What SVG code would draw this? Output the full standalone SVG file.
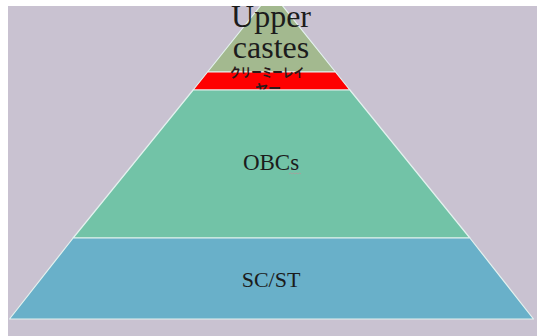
<svg xmlns="http://www.w3.org/2000/svg" width="537" height="336" viewBox="0 0 537 336">
<style>
.layer{stroke:#e4f2ef;stroke-width:1.2;stroke-linejoin:round}
.lbl{font-family:"Liberation Serif","DejaVu Serif",serif;fill:#1c1c1c;text-anchor:middle}
.jp{font-family:"Noto Sans CJK JP","Noto Sans CJK SC",sans-serif;fill:#2a1a1a;text-anchor:middle;font-weight:bold}
</style>
<defs>
<clipPath id="area"><rect x="8" y="6" width="529" height="330"/></clipPath>
</defs>
<rect x="0" y="0" width="537" height="336" fill="#ffffff"/>
<rect x="8" y="6" width="529" height="330" fill="#c9c2d1"/>
<g clip-path="url(#area)">
<g id="upper-castes">
<polygon class="layer" points="271.5,-8 335.5,72 207.5,72" fill="#a3b98f"/>
</g>
<g id="creamy-layer">
<polygon class="layer" points="207.5,72 335.5,72 349.9,90 193.1,90" fill="#fe0000"/>
<text class="jp" x="267" y="77" font-size="13" textLength="74" lengthAdjust="spacingAndGlyphs">クリーミーレイ</text>
<text class="jp" x="268" y="93" font-size="13">ヤー</text>
</g>
<g id="obcs">
<polygon class="layer" points="193.1,90 349.9,90 469.9,238 73.1,238" fill="#72c3a7"/>
<text class="lbl" x="271" y="170" font-size="23">OBCs</text>
<path d="M289,174 l1.5,-1.2 l1.5,1.2 l1.5,-1.2 l1.5,1.2 l1.5,-1.2 l1.5,1.2 l1.5,-1.2 l1.5,1.2" fill="none" stroke="#b09a9a" stroke-width="0.8"/>
</g>
<g id="sc-st">
<polygon class="layer" points="73.1,238 469.9,238 533.5,319 9.5,319" fill="#69b0c9"/>
<text class="lbl" x="271" y="287" font-size="22">SC/ST</text>
</g>
</g>
<g id="upper-label">
<text class="lbl" x="271" y="27" font-size="32">Upper</text>
<text class="lbl" x="271" y="58" font-size="32">castes</text>
</g>
<g id="connectors"/>
</svg>
